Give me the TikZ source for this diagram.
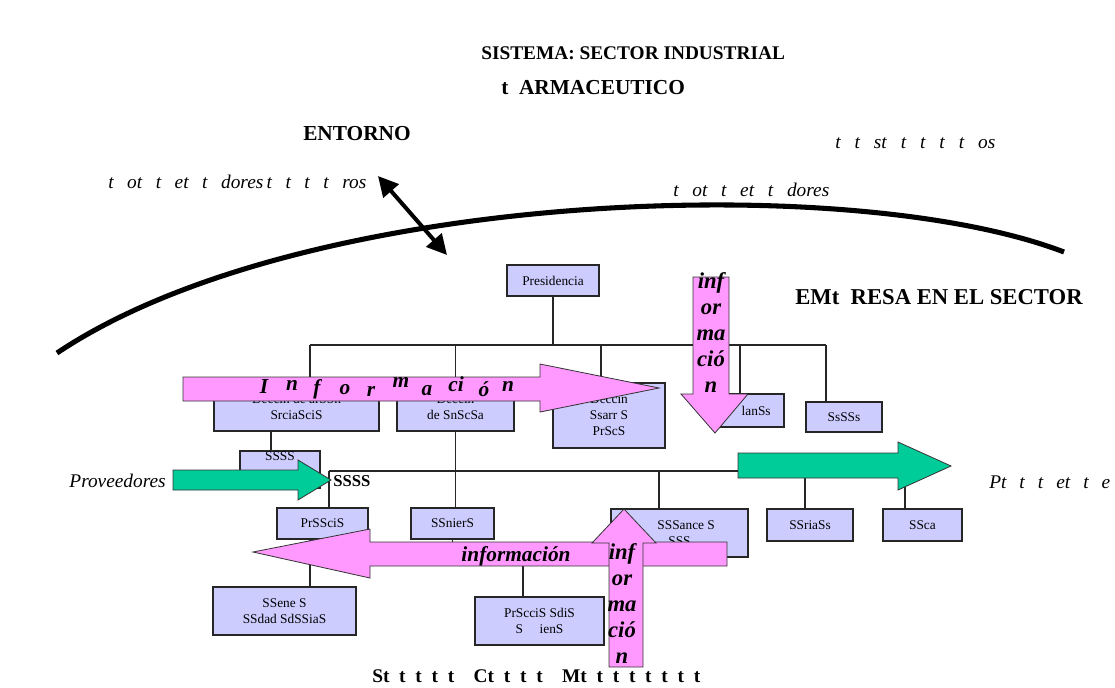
\documentclass[tikz,border=0pt]{standalone}
\usepackage{fontspec}
\setmainfont{Liberation Serif}
\usetikzlibrary{arrows.meta}
\definecolor{boxfill}{HTML}{CCCCFF}
\definecolor{pinkar}{HTML}{FF99FF}
\definecolor{greenar}{HTML}{00CC99}
\pgfdeclarelayer{bg}
\pgfsetlayers{bg,main}
\newcommand\obox[6]{\node[orgbox, minimum width={(#4-#2)*0.75pt}, minimum height={(#5-#3)*0.75pt}] (#1) at ({(#2+#4)/2},{(#3+#5)/2}) {#6};}
% spread text over a width given in pixels
\newcommand\spread[2]{\makebox[#1\dimexpr 0.75pt\relax][s]{#2}}
\begin{document}
\begin{tikzpicture}[x=0.75pt,y=-0.75pt,
  orgbox/.style={draw=black!85, line width=0.9pt, fill=boxfill, inner sep=0pt, align=center, font=\fontsize{10}{12}\selectfont},
  orgline/.style={draw=black!85, line width=0.8pt},
  pinkarrow/.style={draw=black!80, line width=0.6pt, fill=pinkar},
  greenarrow/.style={draw=black!80, line width=0.6pt, fill=greenar},
  titletext/.style={anchor=base west, inner sep=0pt, font=\fontsize{14.5}{17}\selectfont\bfseries},
  itlabel/.style={anchor=base west, inner sep=0pt, font=\fontsize{14.5}{17}\selectfont\itshape},
  infotext/.style={inner sep=0pt, font=\fontsize{16}{19.5}\selectfont\bfseries\itshape},
  stacktext/.style={inner sep=0pt, align=center, font=\fontsize{17}{19.5}\selectfont\bfseries\itshape}]
\useasboundingbox (0,0) rectangle (1115,687);

% titles and labels
\node[titletext] (t1) at (481,59) {SISTEMA: SECTOR INDUSTRIAL};
\node[titletext, font=\fontsize{16}{18}\selectfont\bfseries] (t2) at (501,94) {t\ \ ARMACEUTICO};
\node[titletext, font=\fontsize{16}{18}\selectfont\bfseries] (entorno) at (303,140) {ENTORNO};
\node[itlabel] (l1) at (835,148) {\spread{160}{t t st t t t t os}};
\node[itlabel] (l2) at (108,188) {\spread{258}{t ot t et t dores\,t t t t ros}};
\node[itlabel] (l3) at (673,196) {\spread{156}{t ot t et t dores}};
\node[titletext, font=\fontsize{17}{19}\selectfont\bfseries] (emp) at (795,304) {EMt\ \ RESA EN EL SECTOR};
\node[itlabel, anchor=base east] (prov) at (166,487) {Proveedores};
\node[itlabel] (cli) at (989,488) {\spread{121}{Pt t t et t e}};
\node[titletext] (bottom) at (372,682) {\spread{328}{St t t t t \ Ct t t t \ Mt t t t t t t t}};

% environment curve and double arrow
\coordinate (c0) at (57,353);
\coordinate (c1) at (1064,252);
\draw[line width=3.8pt] (c0) .. controls (300,190) and (850,170) .. (c1);
\coordinate (da1) at (378,176);
\coordinate (da2) at (447,255);
\draw[line width=3pt, {Triangle[length=15pt,width=15pt]}-{Triangle[length=15pt,width=15pt]}] (da1) -- (da2);

% org chart boxes
\obox{pres}{507}{265}{599}{296}{Presidencia}
\obox{b1}{214}{383}{379}{431}{Deccin de arSSn\\SrciaSciS}
\obox{b2}{397}{383}{514}{431}{Deccin\\de SnScSa}
\obox{b3}{553}{383}{665}{448}{Deccin\\Ssarr S\\PrScS}
\obox{b4}{715}{394}{784}{427}{\ \ \ \ lanSs}
\obox{b5}{806}{402}{882}{432}{SsSSs}
\obox{b6}{240}{451}{320}{488}{SSSS\\[8pt]}
\obox{b7}{277}{508}{368}{539}{PrSSciS}
\obox{b8}{411}{508}{494}{539}{SSnierS}
\obox{b9}{611}{509}{748}{557}{\ \ \ \ SSSance S\\SSS}
\obox{b10}{767}{509}{853}{541}{SSriaSs}
\obox{b11}{883}{509}{962}{541}{SSca}
\obox{b12}{213}{587}{356}{635}{SSene S\\SSdad SdSSiaS}
\obox{b13}{475}{597}{604}{645}{PrScciS SdiS\\S\quad\ ienS}

% org chart lines (under the boxes)
\coordinate (busL) at (310,345);
\coordinate (busR) at (826,345);
\coordinate (d3) at (601,345);
\coordinate (d4) at (740,345);
\coordinate (bus2L) at (329,471);
\coordinate (bus2R) at (905,471);
\coordinate (d9) at (659,471);
\coordinate (d10) at (805,471);
\coordinate (d6) at (271,431);
\coordinate (d12) at (310,539);
\coordinate (d13) at (523,560);
\begin{pgfonlayer}{bg}
\draw[orgline] (pres.south) -- (pres.south |- busL);
\draw[orgline] (busL) -- (busR);
\draw[orgline] (busL) -- (busL |- b1.north);
\draw[orgline] (b2.north |- busL) -- (b2.north);
\draw[orgline] (d3) -- (d3 |- b3.north);
\draw[orgline] (d4) -- (d4 |- b4.north);
\draw[orgline] (busR) -- (busR |- b5.north);
\draw[orgline] (d6) -- (d6 |- b6.north);
\draw[orgline] (b2.south) -- (b2.south |- b8.north);
\draw[orgline] (bus2L) -- (bus2R);
\draw[orgline] (bus2L) -- (bus2L |- b7.north);
\draw[orgline] (d9) -- (d9 |- b9.north);
\draw[orgline] (d10) -- (d10 |- b10.north);
\draw[orgline] (bus2R) -- (bus2R |- b11.north);
\draw[orgline] (d12) -- (d12 |- b12.north);
\draw[orgline] (b8.south) |- (d13) -- (d13 |- b13.north);
\end{pgfonlayer}

% blurred bold text next to the bus
\node[inner sep=0pt, anchor=west, font=\fontsize{12.5}{14}\selectfont\bfseries] (blur) at (333,481) {SSSS};

% information arrows
\draw[pinkarrow] (183,377) -- (540,377) -- (540,364) -- (659,388) -- (540,412) -- (540,401) -- (183,401) -- cycle;
\node[infotext] (i1) at (264,387) {I};
\node[infotext] (i2) at (292,385) {n};
\node[infotext] (i3) at (317,389) {f};
\node[infotext] (i4) at (345,390) {o};
\node[infotext] (i5) at (371,391) {r};
\node[infotext] (i6) at (401,382) {m};
\node[infotext] (i7) at (427,391) {a};
\node[infotext] (i8) at (456,384) {ci};
\node[infotext] (i9) at (484,389) {ó};
\node[infotext] (i10) at (508,386) {n};

\draw[pinkarrow] (693,277) -- (729,277) -- (729,394) -- (748,394) -- (715,433) -- (681,394) -- (693,394) -- cycle;
\node[stacktext] (down) at (711,333) {inf\\or\\ma\\ció\\n};

\draw[pinkarrow] (727,542) -- (370,542) -- (370,529) -- (253,552) -- (370,578) -- (370,566) -- (727,566) -- cycle;
\node[infotext] (i11) at (516,556) {información};

\draw[pinkarrow] (609,667) -- (643,667) -- (643,543) -- (656,543) -- (624,509) -- (592,543) -- (609,543) -- cycle;
\node[stacktext] (up) at (622,604) {inf\\or\\ma\\ció\\n};

\draw[greenarrow] (173,470) -- (298,470) -- (298,460) -- (331,480) -- (298,500) -- (298,490) -- (173,490) -- cycle;
\draw[greenarrow] (738,453) -- (898,453) -- (898,442) -- (951,466) -- (898,490) -- (898,478) -- (738,478) -- cycle;

\end{tikzpicture}
\end{document}
